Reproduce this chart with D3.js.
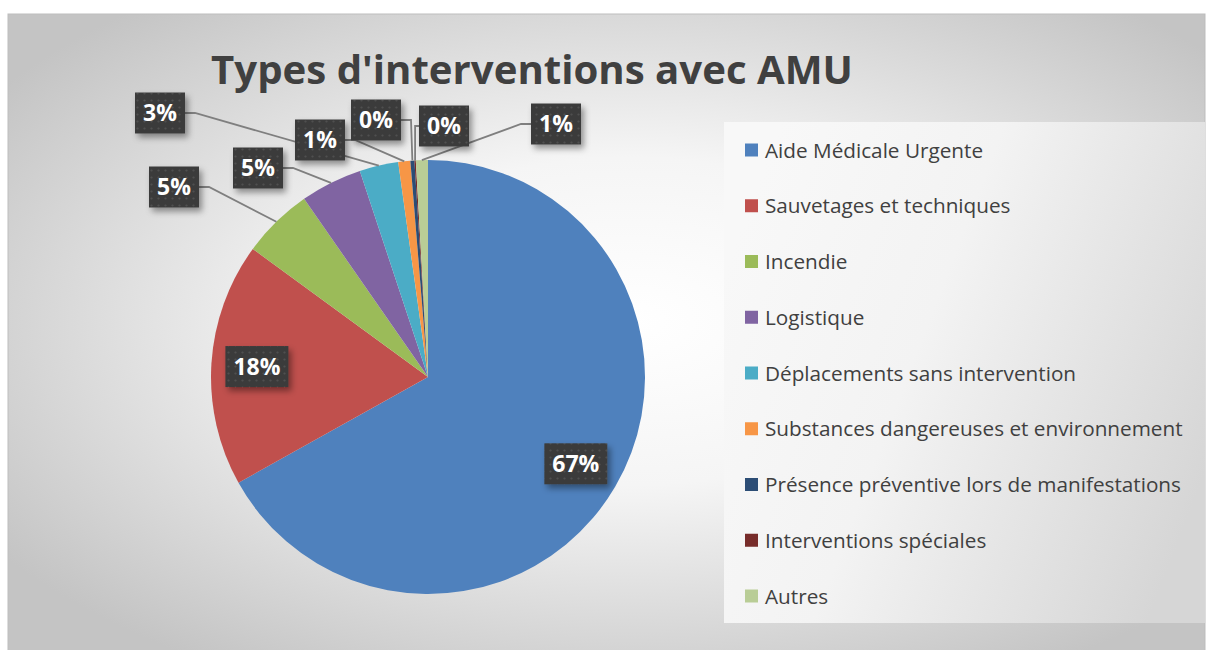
<html>
<head>
<meta charset="utf-8">
<script src='https://d3js.org/d3.v7.min.js'></script>
<style>
    body { margin: 0; background: #fff; }
    text { font-family: 'Open Sans', sans-serif; }
</style>
</head>

<body onload='init()'>
    <svg width=1207 height=650></svg>
    <script>
        // data
        const categories = ['Aide Médicale Urgente', 'Sauvetages et techniques', 'Incendie', 'Logistique',
            'Déplacements sans intervention', 'Substances dangereuses et environnement',
            'Présence préventive lors de manifestations', 'Interventions spéciales', 'Autres'];
        const values = [67.1, 18.2, 5.3, 4.6, 2.9, 0.9, 0.3, 0.1, 0.9];
        const colors = ['#4f81bd', '#c0504d', '#9bbb59', '#8064a2', '#4bacc6', '#f79646', '#2c4d75', '#772c2a', '#b9cd96'];

        // label placement (offset of label centre from pie centre, null = inside)
        const labelOffsets = [null, null, [-254, -190], [-170, -209], [-268, -264], [-108, -237], [-52, -257], [16, -251], [128, -253]];

        function init() {
            const svg = d3.select('svg');
            const defs = svg.append('defs');

            const bg = defs.append('radialGradient').attr('id', 'bg')
                .attr('cx', '52%').attr('cy', '48%').attr('r', '64%');
            bg.append('stop').attr('offset', '0').attr('stop-color', '#ffffff');
            bg.append('stop').attr('offset', '0.4').attr('stop-color', '#f5f5f5');
            bg.append('stop').attr('offset', '1').attr('stop-color', '#c4c4c4');

            const lg = defs.append('linearGradient').attr('id', 'lg')
                .attr('x1', '0').attr('y1', '0.3').attr('x2', '1').attr('y2', '0.7');
            lg.append('stop').attr('offset', '0').attr('stop-color', '#f8f8f8');
            lg.append('stop').attr('offset', '0.4').attr('stop-color', '#f3f3f3');
            lg.append('stop').attr('offset', '1').attr('stop-color', '#d6d6d6');

            const pat = defs.append('pattern').attr('id', 'dots')
                .attr('width', 7).attr('height', 7).attr('patternUnits', 'userSpaceOnUse');
            pat.append('rect').attr('width', 7).attr('height', 7).attr('fill', '#3b3b3b');
            pat.append('circle').attr('cx', 3.5).attr('cy', 3.5).attr('r', 1.1).attr('fill', '#4f4f4f');

            defs.append('filter').attr('id', 'shadow')
                .attr('x', '-30%').attr('y', '-30%').attr('width', '170%').attr('height', '170%')
                .append('feDropShadow').attr('dx', 3).attr('dy', 4).attr('stdDeviation', 3)
                .attr('flood-color', '#000').attr('flood-opacity', 0.4);

            // chart area
            svg.append('rect').attr('x', 8).attr('y', 14).attr('width', 1197).attr('height', 640)
                .attr('fill', 'url(#bg)').attr('stroke', '#bdbdbd').attr('stroke-width', 1);

            // title
            const title = svg.append('text').attr('x', 532).attr('y', 84)
                .attr('text-anchor', 'middle').attr('fill', '#404040')
                .attr('font-weight', 'bold').attr('font-size', 42)
                .text("Types d'interventions avec AMU");
            const tw = title.node().getComputedTextLength();
            title.attr('font-size', 42 * 642 / tw);

            // pie
            const cx = 428, cy = 377, r = 217;
            const pie = d3.pie().sort(null).value(d => d)(values);
            const arc = d3.arc().innerRadius(0).outerRadius(r);
            const g = svg.append('g').attr('transform', `translate(${cx},${cy})`);
            g.append('g')
                .selectAll('path').data(pie).enter().append('path')
                .attr('d', arc).attr('fill', (d, i) => colors[i]);

            // leader lines + labels
            const mid = d => (d.startAngle + d.endAngle) / 2;
            const lab = g.append('g');
            pie.forEach((d, i) => {
                const txt = Math.round(values[i]) + '%';
                const w = txt.length > 2 ? 63 : 50, h = 41;
                let lx, ly;
                if (labelOffsets[i]) {
                    [lx, ly] = labelOffsets[i];
                    const a = mid(d);
                    const px = r * Math.sin(a), py = -r * Math.cos(a);
                    const right = lx < px;
                    const ex = right ? lx + w / 2 : lx - w / 2;
                    const stub = Math.min(10, Math.abs(px - ex));
                    const sx = right ? ex + stub : ex - stub;
                    lab.append('polyline')
                        .attr('points', `${ex},${ly} ${sx},${ly} ${px},${py}`)
                        .attr('fill', 'none').attr('stroke', '#7f7f7f').attr('stroke-width', 1.8);
                } else {
                    const c = d3.arc().innerRadius(0).outerRadius(r * 1.58).centroid(d);
                    [lx, ly] = c;
                }
                d.lx = lx; d.ly = ly; d.w = w; d.h = h; d.txt = txt;
            });
            pie.forEach(d => {
                lab.append('rect').attr('x', d.lx - d.w / 2).attr('y', d.ly - d.h / 2)
                    .attr('width', d.w).attr('height', d.h)
                    .attr('fill', 'url(#dots)').attr('filter', 'url(#shadow)');
                lab.append('text').attr('x', d.lx).attr('y', d.ly + 8)
                    .attr('text-anchor', 'middle').attr('fill', '#fff')
                    .attr('font-weight', 'bold').attr('font-size', 23).text(d.txt);
            });

            // legend
            svg.append('rect').attr('x', 724).attr('y', 122).attr('width', 481).attr('height', 501)
                .attr('fill', 'url(#lg)');
            const y = d3.scalePoint().domain(categories).range([150, 596]);
            const leg = svg.append('g').selectAll('g').data(categories).enter().append('g')
                .attr('transform', d => `translate(745,${y(d)})`);
            leg.append('rect').attr('x', 0).attr('y', -6.5).attr('width', 13).attr('height', 13)
                .attr('fill', (d, i) => colors[i]);
            const lt = leg.append('text').attr('x', 20).attr('y', 7.5)
                .attr('fill', '#404040').attr('font-size', 20).text(d => d);
            const longest = d3.max(lt.nodes(), n => n.getComputedTextLength());
            lt.attr('font-size', 20 * 418 / longest);
        }
    </script>
</body>

</html>
